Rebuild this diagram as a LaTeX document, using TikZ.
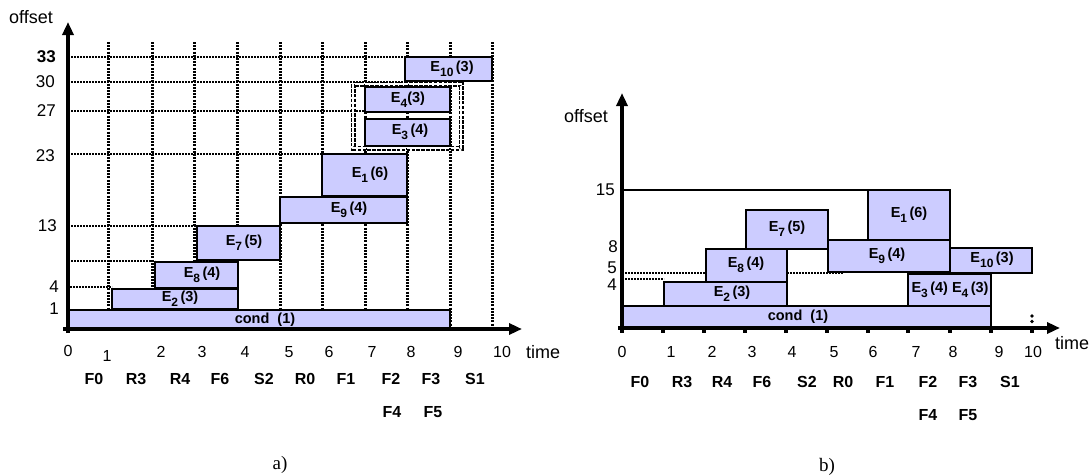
\documentclass[tikz,border=0pt]{standalone}
\usepackage{fontspec}
\setmainfont{Liberation Sans}
\newfontfamily\capserif{Liberation Serif}
\usetikzlibrary{arrows.meta}
\definecolor{boxfill}{HTML}{CCCCFF}
\newcommand{\evsub}[1]{\raisebox{-0.32em}{\fontsize{12}{12}\selectfont #1}}
\begin{document}
\begin{tikzpicture}[x=1pt,y=-1pt,
  evbox/.style={draw=black,line width=2.4pt,fill=boxfill},
  evlab/.style={font=\fontsize{14.5}{16}\selectfont\bfseries,inner sep=0pt},
  axis/.style={line width=3.6pt,-{Triangle[length=13pt,width=11pt]}},
  vgrid/.style={line width=3pt,dash pattern=on 2pt off 1.2pt},
  hgrid/.style={line width=2pt,dash pattern=on 1.8pt off 1.2pt},
  ylab/.style={font=\fontsize{17}{19}\selectfont,anchor=east,inner sep=0pt},
  tlab/.style={font=\fontsize{16}{18}\selectfont,inner sep=0pt},
  flab/.style={font=\fontsize{16}{18}\selectfont\bfseries,inner sep=0pt},
  axlab/.style={font=\fontsize{18}{20}\selectfont,inner sep=0pt},
  caplab/.style={font=\capserif\fontsize{19}{21}\selectfont,inner sep=0pt},
  hollow/.style={line width=5pt,dash pattern=on 3.6pt off 1.3pt},
  hollowin/.style={white,line width=2pt,dash pattern=on 3.6pt off 1.3pt},
  tick/.style={fill=black},
]
\useasboundingbox (0,0) rectangle (1091,474);

% ================= panel a) =================
% vertical grid
\foreach \x in {108,152,194,237,280,322,365,407,450,492}
  \draw[vgrid] (\x,42) -- (\x,329);
% horizontal grid
\draw[hgrid] (68,57) -- (405,57);
\draw[hgrid] (68,82) -- (405,82);
\draw[hgrid] (68,111) -- (365,111);
\draw[hgrid] (68,154) -- (322,154);
\draw[hgrid] (68,226) -- (197,226);
\draw[hgrid] (68,261) -- (155,261);
\draw[hgrid] (70,287) -- (112,287);

% boxes
\draw[evbox] (68,310) rectangle (450,329);
\node[evlab] (acond) at (265,320) {cond\ \ (1)};
\draw[evbox] (112,289) rectangle (238,309);
\node[evlab] (aE2) at (180,299) {E\evsub{2}\,(3)};
\draw[evbox] (155,262) rectangle (238,288);
\node[evlab] (aE8) at (202,275) {E\evsub{8}\,(4)};
\draw[evbox] (197,226) rectangle (280,260);
\node[evlab] (aE7) at (244,243) {E\evsub{7}\,(5)};
\draw[evbox] (280,197) rectangle (407,223);
\node[evlab] (aE9) at (349,210) {E\evsub{9}\,(4)};
\draw[evbox] (322,154) rectangle (407,196);
\node[evlab] (aE1) at (370,175) {E\evsub{1}\,(6)};
\draw[evbox] (365,119) rectangle (450,146);
\node[evlab] (aE3) at (410,132) {E\evsub{3}\,(4)};
\draw[evbox] (365,87) rectangle (450,112);
\node[evlab] (aE4) at (408,100) {E\evsub{4}(3)};
\draw[evbox] (405,57) rectangle (492,81);
\node[evlab] (aE10) at (452,69) {E\evsub{10}\,(3)};
% hollow dotted frame
\draw[hollow] (353,84) rectangle (461,148);
\draw[hollowin] (353,84) rectangle (461,148);

% axes
\coordinate (aXs) at (63,329);
\coordinate (aXe) at (522,329);
\coordinate (aYs) at (68,333);
\coordinate (aYe) at (68,22);
\draw[axis] (aXs) -- (aXe);
\draw[axis] (aYs) -- (aYe);

% y labels
\node[axlab] (aoff) at (31,17) {offset};
\node[ylab,font=\fontsize{17}{19}\selectfont\bfseries] (a33) at (56,57) {33};
\node[ylab] (a30) at (55,82) {30};
\node[ylab] (a27) at (56,111) {27};
\node[ylab] (a23) at (55,156) {23};
\node[ylab] (a13) at (57,226) {13};
\node[ylab] (a4) at (59,287) {4};
\node[ylab] (a1) at (59,309) {1};

% time labels
\node[tlab] (at0) at (68,351) {0};
\node[tlab] (at1) at (107,356) {1};
\node[tlab] (at2) at (161,352) {2};
\node[tlab] (at3) at (202,352) {3};
\node[tlab] (at4) at (245,352) {4};
\node[tlab] (at5) at (289,352) {5};
\node[tlab] (at6) at (329,352) {6};
\node[tlab] (at7) at (372,352) {7};
\node[tlab] (at8) at (411,352) {8};
\node[tlab] (at9) at (458,352) {9};
\node[tlab] (at10) at (502,352) {10};
\node[axlab,anchor=west] (atime) at (526,352) {time};

\node[flab] (aF0) at (94,379) {F0};
\node[flab] (aR3) at (136,379) {R3};
\node[flab] (aR4) at (180,379) {R4};
\node[flab] (aF6) at (220,379) {F6};
\node[flab] (aS2) at (264,379) {S2};
\node[flab] (aR0) at (305,379) {R0};
\node[flab] (aF1) at (346,379) {F1};
\node[flab] (aF2) at (391,379) {F2};
\node[flab] (aF3) at (431,379) {F3};
\node[flab] (aS1) at (475,379) {S1};
\node[flab] (aF4) at (392,412) {F4};
\node[flab] (aF5) at (433,412) {F5};

\node[caplab] (acap) at (280,465) {a)};

% ================= panel b) =================
\draw[hgrid] (622,273) -- (843,273);
\draw[hgrid] (622,279) -- (664,279);
\draw[line width=2.4pt] (622,190) -- (868,190);

\draw[evbox] (622,306) rectangle (991,328);
\node[evlab] (bcond) at (798,317) {cond\ \ (1)};
\draw[evbox] (664,282) rectangle (787,306);
\node[evlab] (bE2) at (732,294) {E\evsub{2}\,(3)};
\draw[evbox] (706,249) rectangle (787,282);
\node[evlab] (bE8) at (746,265) {E\evsub{8}\,(4)};
\draw[evbox] (746,210) rectangle (828,249);
\node[evlab] (bE7) at (787,229) {E\evsub{7}\,(5)};
\draw[evbox] (828,240) rectangle (950,272);
\node[evlab] (bE9) at (887,256) {E\evsub{9}\,(4)};
\draw[evbox] (868,190) rectangle (950,240);
\node[evlab] (bE1) at (909,215) {E\evsub{1}\,(6)};
\draw[evbox] (950,248) rectangle (1032,273);
\node[evlab] (bE10) at (992,260) {E\evsub{10}\,(3)};
\draw[evbox] (908,274) rectangle (991,306);
\node[evlab] (bE34) at (950,290) {E\evsub{3}\,(4) E\evsub{4}\,(3)};

% axes
\coordinate (bXs) at (618,328);
\coordinate (bXe) at (1060,328);
\coordinate (bYs) at (622,332);
\coordinate (bYe) at (622,93);
\draw[axis] (bXs) -- (bXe);
\draw[axis] (bYs) -- (bYe);
\foreach \x in {622,663,704,745,786,827,868,908,950,991,1032}
  \fill[tick] (\x-1.6,328) rectangle (\x+1.6,332.5);
\fill[tick] (1032,316) circle (1.8);
\fill[tick] (1032,321.5) circle (1.8);

\node[axlab] (boff) at (586,116) {offset};
\node[ylab] (b15) at (615,190) {15};
\node[ylab] (b8) at (618,247) {8};
\node[ylab] (b5) at (617,268) {5};
\node[ylab] (b4) at (617,285) {4};

\node[tlab] (bt0) at (622,352) {0};
\node[tlab] (bt1) at (671,352) {1};
\node[tlab] (bt2) at (712,352) {2};
\node[tlab] (bt3) at (752,352) {3};
\node[tlab] (bt4) at (792,352) {4};
\node[tlab] (bt5) at (834,352) {5};
\node[tlab] (bt6) at (873,352) {6};
\node[tlab] (bt7) at (916,352) {7};
\node[tlab] (bt8) at (953,352) {8};
\node[tlab] (bt9) at (999,352) {9};
\node[tlab] (bt10) at (1033,352) {10};
\node[axlab] (btime) at (1072,343) {time};

\node[flab] (bF0) at (640,382) {F0};
\node[flab] (bR3) at (682,382) {R3};
\node[flab] (bR4) at (722,382) {R4};
\node[flab] (bF6) at (762,382) {F6};
\node[flab] (bS2) at (807,382) {S2};
\node[flab] (bR0) at (843,382) {R0};
\node[flab] (bF1) at (885,382) {F1};
\node[flab] (bF2) at (928,382) {F2};
\node[flab] (bF3) at (968,382) {F3};
\node[flab] (bS1) at (1010,382) {S1};
\node[flab] (bF4) at (928,415) {F4};
\node[flab] (bF5) at (968,415) {F5};

\node[caplab] (bcap) at (827,467) {b)};
\end{tikzpicture}
\end{document}
